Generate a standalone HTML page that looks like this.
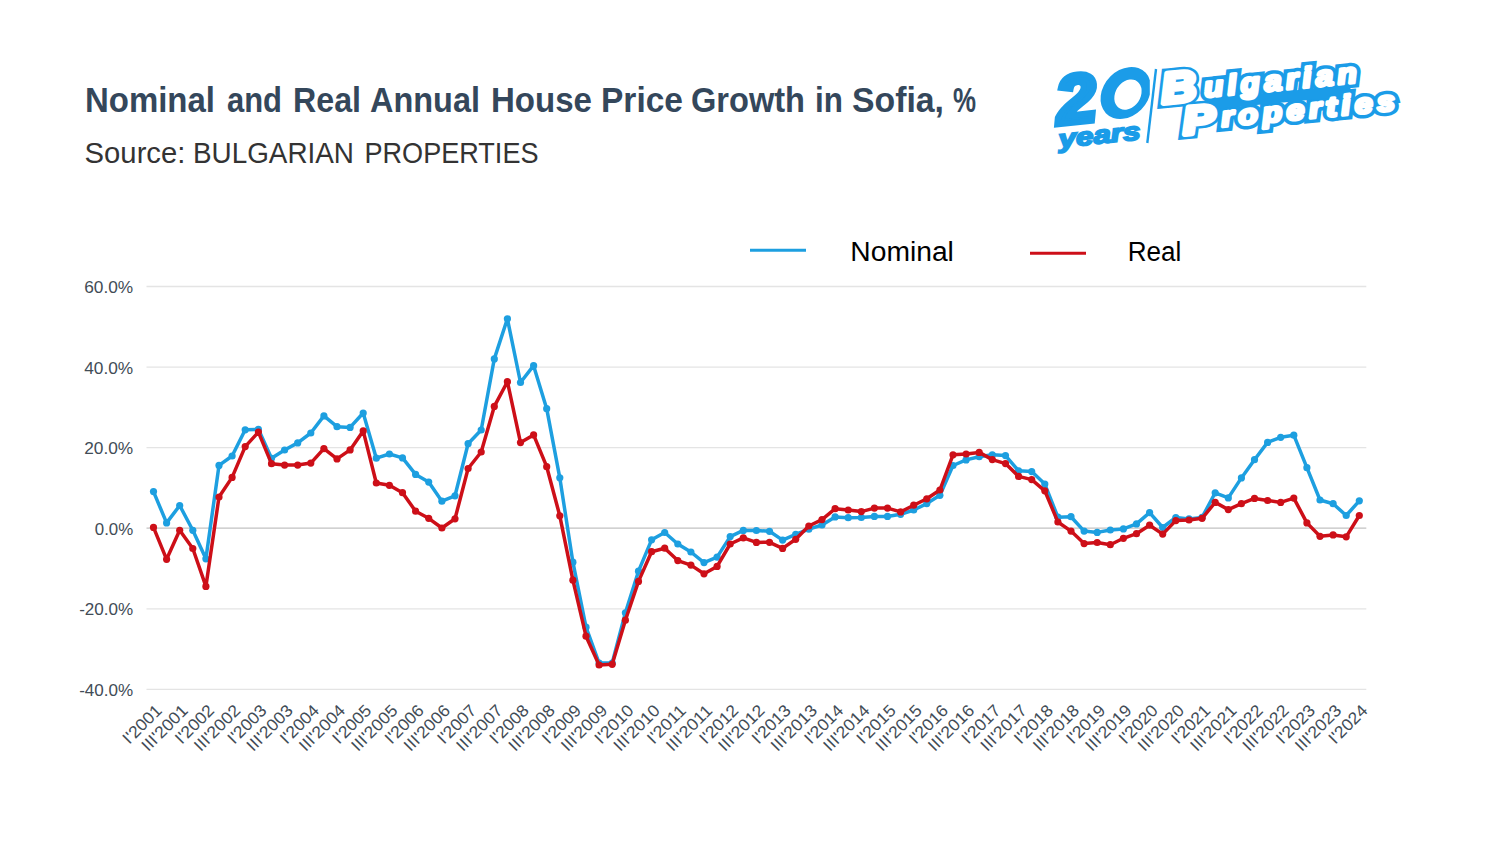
<!DOCTYPE html>
<html><head><meta charset="utf-8"><title>Chart</title>
<style>
html,body{margin:0;padding:0;background:#fff;}
body{width:1500px;height:844px;overflow:hidden;font-family:"Liberation Sans",sans-serif;}
svg{display:block;font-family:"Liberation Sans",sans-serif;}
</style></head><body>
<svg width="1500" height="844" viewBox="0 0 1500 844">
<rect width="1500" height="844" fill="#ffffff"/>
<text x="85.0" y="112.4" font-size="35.2" font-weight="bold" fill="#34475b" textLength="129.98" lengthAdjust="spacingAndGlyphs">Nominal</text>
<text x="227.0" y="112.4" font-size="35.2" font-weight="bold" fill="#34475b" textLength="54.96" lengthAdjust="spacingAndGlyphs">and</text>
<text x="293.0" y="112.4" font-size="35.2" font-weight="bold" fill="#34475b" textLength="67.97" lengthAdjust="spacingAndGlyphs">Real</text>
<text x="370.0" y="112.4" font-size="35.2" font-weight="bold" fill="#34475b" textLength="109.98" lengthAdjust="spacingAndGlyphs">Annual</text>
<text x="491.0" y="112.4" font-size="35.2" font-weight="bold" fill="#34475b" textLength="101.0" lengthAdjust="spacingAndGlyphs">House</text>
<text x="601.0" y="112.4" font-size="35.2" font-weight="bold" fill="#34475b" textLength="81.98" lengthAdjust="spacingAndGlyphs">Price</text>
<text x="691.0" y="112.4" font-size="35.2" font-weight="bold" fill="#34475b" textLength="113.98" lengthAdjust="spacingAndGlyphs">Growth</text>
<text x="815.0" y="112.4" font-size="35.2" font-weight="bold" fill="#34475b" textLength="27.93" lengthAdjust="spacingAndGlyphs">in</text>
<text x="852.0" y="112.4" font-size="35.2" font-weight="bold" fill="#34475b" textLength="92.0" lengthAdjust="spacingAndGlyphs">Sofia,</text>
<text x="953.0" y="112.4" font-size="35.2" font-weight="bold" fill="#34475b" textLength="23.0" lengthAdjust="spacingAndGlyphs">%</text>
<text x="84.6" y="163" font-size="28.6" fill="#333333" textLength="100.79" lengthAdjust="spacingAndGlyphs">Source:</text>
<text x="193.0" y="163" font-size="28.6" fill="#333333" textLength="160.99" lengthAdjust="spacingAndGlyphs">BULGARIAN</text>
<text x="364.5" y="163" font-size="28.6" fill="#333333" textLength="173.99" lengthAdjust="spacingAndGlyphs">PROPERTIES</text>

<g id="logo" font-weight="bold" font-style="italic" fill="#1b9ce8">
<!-- 20 years -->
<g transform="translate(1058.5,124.2) rotate(-6)">
<text x="0" y="0" font-size="68" stroke="#1b9ce8" stroke-width="6" stroke-linejoin="miter" textLength="40" lengthAdjust="spacingAndGlyphs">2</text>
<text x="-1.5" y="23.5" font-size="25" stroke="#1b9ce8" stroke-width="1.9" stroke-linejoin="miter" textLength="82" lengthAdjust="spacingAndGlyphs">years</text>
</g>
<g transform="translate(1125.8,93) rotate(-6) skewX(-13)">
<ellipse cx="0" cy="0" rx="25.2" ry="25.4" fill="#1b9ce8"/>
<ellipse cx="2.4" cy="1.8" rx="13.6" ry="14.8" fill="#ffffff"/>
</g>
<rect x="1149.8" y="60" width="6" height="70" fill="#ffffff"/>
<line x1="1156" y1="69" x2="1147.3" y2="143" stroke="#1b9ce8" stroke-width="2.4"/>
<!-- Bulgarian Properties -->
<g transform="translate(1165,102.8) rotate(-5.5)">
<g fill="#1b9ce8" stroke="#1b9ce8" stroke-width="10" stroke-linejoin="miter" stroke-miterlimit="3">
<text x="-2.5" y="0.5" font-size="43" textLength="35" lengthAdjust="spacingAndGlyphs">B</text>
<text x="40" y="-1.8" font-size="28.5" letter-spacing="4" textLength="158" lengthAdjust="spacingAndGlyphs">ulgarian</text>
<text x="16" y="33.3" font-size="39" textLength="32" lengthAdjust="spacingAndGlyphs">P</text>
<text x="54.5" y="29.3" font-size="28" letter-spacing="4" textLength="179" lengthAdjust="spacingAndGlyphs">roperties</text>
</g>
<polygon points="40,0 186,0 186,11 52,11" fill="#1b9ce8"/>
<g fill="#ffffff" stroke="#ffffff" stroke-width="3.1" stroke-linejoin="round">
<text x="-2.5" y="0.5" font-size="43" textLength="35" lengthAdjust="spacingAndGlyphs" stroke-width="5">B</text>
<text x="40" y="-1.8" font-size="28.5" letter-spacing="4" textLength="158" lengthAdjust="spacingAndGlyphs">ulgarian</text>
<text x="16" y="33.3" font-size="39" textLength="32" lengthAdjust="spacingAndGlyphs" stroke-width="5">P</text>
<text x="54.5" y="29.3" font-size="28" letter-spacing="4" textLength="179" lengthAdjust="spacingAndGlyphs">roperties</text>
</g>
</g>
</g>

<line x1="750" x2="806" y1="250.2" y2="250.2" stroke="#1d9fe0" stroke-width="3"/>
<text x="850.3" y="261.4" font-size="27" fill="#000" textLength="103.6" lengthAdjust="spacingAndGlyphs">Nominal</text>
<line x1="1030" x2="1086" y1="253.2" y2="253.2" stroke="#cd0f18" stroke-width="3"/>
<text x="1127.8" y="261.4" font-size="27" fill="#000" textLength="53.6" lengthAdjust="spacingAndGlyphs">Real</text>
<line x1="146.5" x2="1366.3" y1="286.5" y2="286.5" stroke="#e4e4e4" stroke-width="1.3"/>
<text x="133.2" y="293.0" text-anchor="end" font-size="16.5" fill="#424c56" textLength="49.0" lengthAdjust="spacingAndGlyphs">60.0%</text>
<line x1="146.5" x2="1366.3" y1="367.2" y2="367.2" stroke="#e4e4e4" stroke-width="1.3"/>
<text x="133.2" y="373.7" text-anchor="end" font-size="16.5" fill="#424c56" textLength="49.0" lengthAdjust="spacingAndGlyphs">40.0%</text>
<line x1="146.5" x2="1366.3" y1="447.7" y2="447.7" stroke="#e4e4e4" stroke-width="1.3"/>
<text x="133.2" y="454.2" text-anchor="end" font-size="16.5" fill="#424c56" textLength="49.0" lengthAdjust="spacingAndGlyphs">20.0%</text>
<line x1="146.5" x2="1366.3" y1="528.1" y2="528.1" stroke="#c2c2c2" stroke-width="1.3"/>
<text x="133.2" y="534.6" text-anchor="end" font-size="16.5" fill="#424c56" textLength="38.4" lengthAdjust="spacingAndGlyphs">0.0%</text>
<line x1="146.5" x2="1366.3" y1="608.8" y2="608.8" stroke="#e4e4e4" stroke-width="1.3"/>
<text x="133.2" y="615.3" text-anchor="end" font-size="16.5" fill="#424c56" textLength="54.0" lengthAdjust="spacingAndGlyphs">-20.0%</text>
<line x1="146.5" x2="1366.3" y1="689.4" y2="689.4" stroke="#e4e4e4" stroke-width="1.3"/>
<text x="133.2" y="695.9" text-anchor="end" font-size="16.5" fill="#424c56" textLength="54.0" lengthAdjust="spacingAndGlyphs">-40.0%</text>

<polyline points="153.5,491.6 166.6,522.9 179.7,505.5 192.8,530.3 205.9,558.8 219.0,465.4 232.1,456.0 245.2,429.8 258.4,429.3 271.5,458.3 284.6,450.0 297.7,442.9 310.8,433.0 323.9,415.9 337.0,426.7 350.1,427.4 363.2,413.0 376.3,458.2 389.4,454.0 402.5,457.9 415.6,474.4 428.7,482.1 441.9,501.2 455.0,495.8 468.1,443.7 481.2,430.0 494.3,358.9 507.4,318.8 520.5,382.5 533.6,365.7 546.7,408.7 559.8,477.8 572.9,562.2 586.0,627.2 599.1,663.0 612.2,663.0 625.4,612.8 638.5,571.2 651.6,539.8 664.7,532.5 677.8,544.0 690.9,552.0 704.0,562.6 717.1,557.1 730.2,536.6 743.3,530.4 756.4,530.5 769.5,531.3 782.6,540.1 795.7,534.3 808.8,529.2 822.0,525.0 835.1,516.9 848.2,517.7 861.3,517.5 874.4,516.4 887.5,516.4 900.6,514.3 913.7,510.0 926.8,503.6 939.9,495.3 953.0,465.5 966.1,459.9 979.2,456.7 992.3,454.8 1005.5,455.6 1018.6,470.8 1031.7,471.6 1044.8,484.1 1057.9,517.2 1071.0,516.7 1084.1,531.1 1097.2,532.4 1110.3,530.0 1123.4,528.9 1136.5,523.9 1149.6,512.7 1162.7,527.5 1175.8,517.5 1189.0,518.9 1202.1,517.4 1215.2,492.8 1228.3,497.9 1241.4,477.9 1254.5,459.7 1267.6,442.4 1280.7,437.3 1293.8,435.2 1306.9,467.7 1320.0,500.0 1333.1,503.7 1346.2,515.5 1359.3,500.8" fill="none" stroke="#1d9fe0" stroke-width="3.5" stroke-linejoin="round" stroke-linecap="round"/>
<circle cx="153.5" cy="491.6" r="3.6" fill="#1d9fe0"/><circle cx="166.6" cy="522.9" r="3.6" fill="#1d9fe0"/><circle cx="179.7" cy="505.5" r="3.6" fill="#1d9fe0"/><circle cx="192.8" cy="530.3" r="3.6" fill="#1d9fe0"/><circle cx="205.9" cy="558.8" r="3.6" fill="#1d9fe0"/><circle cx="219.0" cy="465.4" r="3.6" fill="#1d9fe0"/><circle cx="232.1" cy="456.0" r="3.6" fill="#1d9fe0"/><circle cx="245.2" cy="429.8" r="3.6" fill="#1d9fe0"/><circle cx="258.4" cy="429.3" r="3.6" fill="#1d9fe0"/><circle cx="271.5" cy="458.3" r="3.6" fill="#1d9fe0"/><circle cx="284.6" cy="450.0" r="3.6" fill="#1d9fe0"/><circle cx="297.7" cy="442.9" r="3.6" fill="#1d9fe0"/><circle cx="310.8" cy="433.0" r="3.6" fill="#1d9fe0"/><circle cx="323.9" cy="415.9" r="3.6" fill="#1d9fe0"/><circle cx="337.0" cy="426.7" r="3.6" fill="#1d9fe0"/><circle cx="350.1" cy="427.4" r="3.6" fill="#1d9fe0"/><circle cx="363.2" cy="413.0" r="3.6" fill="#1d9fe0"/><circle cx="376.3" cy="458.2" r="3.6" fill="#1d9fe0"/><circle cx="389.4" cy="454.0" r="3.6" fill="#1d9fe0"/><circle cx="402.5" cy="457.9" r="3.6" fill="#1d9fe0"/><circle cx="415.6" cy="474.4" r="3.6" fill="#1d9fe0"/><circle cx="428.7" cy="482.1" r="3.6" fill="#1d9fe0"/><circle cx="441.9" cy="501.2" r="3.6" fill="#1d9fe0"/><circle cx="455.0" cy="495.8" r="3.6" fill="#1d9fe0"/><circle cx="468.1" cy="443.7" r="3.6" fill="#1d9fe0"/><circle cx="481.2" cy="430.0" r="3.6" fill="#1d9fe0"/><circle cx="494.3" cy="358.9" r="3.6" fill="#1d9fe0"/><circle cx="507.4" cy="318.8" r="3.6" fill="#1d9fe0"/><circle cx="520.5" cy="382.5" r="3.6" fill="#1d9fe0"/><circle cx="533.6" cy="365.7" r="3.6" fill="#1d9fe0"/><circle cx="546.7" cy="408.7" r="3.6" fill="#1d9fe0"/><circle cx="559.8" cy="477.8" r="3.6" fill="#1d9fe0"/><circle cx="572.9" cy="562.2" r="3.6" fill="#1d9fe0"/><circle cx="586.0" cy="627.2" r="3.6" fill="#1d9fe0"/><circle cx="599.1" cy="663.0" r="3.6" fill="#1d9fe0"/><circle cx="612.2" cy="663.0" r="3.6" fill="#1d9fe0"/><circle cx="625.4" cy="612.8" r="3.6" fill="#1d9fe0"/><circle cx="638.5" cy="571.2" r="3.6" fill="#1d9fe0"/><circle cx="651.6" cy="539.8" r="3.6" fill="#1d9fe0"/><circle cx="664.7" cy="532.5" r="3.6" fill="#1d9fe0"/><circle cx="677.8" cy="544.0" r="3.6" fill="#1d9fe0"/><circle cx="690.9" cy="552.0" r="3.6" fill="#1d9fe0"/><circle cx="704.0" cy="562.6" r="3.6" fill="#1d9fe0"/><circle cx="717.1" cy="557.1" r="3.6" fill="#1d9fe0"/><circle cx="730.2" cy="536.6" r="3.6" fill="#1d9fe0"/><circle cx="743.3" cy="530.4" r="3.6" fill="#1d9fe0"/><circle cx="756.4" cy="530.5" r="3.6" fill="#1d9fe0"/><circle cx="769.5" cy="531.3" r="3.6" fill="#1d9fe0"/><circle cx="782.6" cy="540.1" r="3.6" fill="#1d9fe0"/><circle cx="795.7" cy="534.3" r="3.6" fill="#1d9fe0"/><circle cx="808.8" cy="529.2" r="3.6" fill="#1d9fe0"/><circle cx="822.0" cy="525.0" r="3.6" fill="#1d9fe0"/><circle cx="835.1" cy="516.9" r="3.6" fill="#1d9fe0"/><circle cx="848.2" cy="517.7" r="3.6" fill="#1d9fe0"/><circle cx="861.3" cy="517.5" r="3.6" fill="#1d9fe0"/><circle cx="874.4" cy="516.4" r="3.6" fill="#1d9fe0"/><circle cx="887.5" cy="516.4" r="3.6" fill="#1d9fe0"/><circle cx="900.6" cy="514.3" r="3.6" fill="#1d9fe0"/><circle cx="913.7" cy="510.0" r="3.6" fill="#1d9fe0"/><circle cx="926.8" cy="503.6" r="3.6" fill="#1d9fe0"/><circle cx="939.9" cy="495.3" r="3.6" fill="#1d9fe0"/><circle cx="953.0" cy="465.5" r="3.6" fill="#1d9fe0"/><circle cx="966.1" cy="459.9" r="3.6" fill="#1d9fe0"/><circle cx="979.2" cy="456.7" r="3.6" fill="#1d9fe0"/><circle cx="992.3" cy="454.8" r="3.6" fill="#1d9fe0"/><circle cx="1005.5" cy="455.6" r="3.6" fill="#1d9fe0"/><circle cx="1018.6" cy="470.8" r="3.6" fill="#1d9fe0"/><circle cx="1031.7" cy="471.6" r="3.6" fill="#1d9fe0"/><circle cx="1044.8" cy="484.1" r="3.6" fill="#1d9fe0"/><circle cx="1057.9" cy="517.2" r="3.6" fill="#1d9fe0"/><circle cx="1071.0" cy="516.7" r="3.6" fill="#1d9fe0"/><circle cx="1084.1" cy="531.1" r="3.6" fill="#1d9fe0"/><circle cx="1097.2" cy="532.4" r="3.6" fill="#1d9fe0"/><circle cx="1110.3" cy="530.0" r="3.6" fill="#1d9fe0"/><circle cx="1123.4" cy="528.9" r="3.6" fill="#1d9fe0"/><circle cx="1136.5" cy="523.9" r="3.6" fill="#1d9fe0"/><circle cx="1149.6" cy="512.7" r="3.6" fill="#1d9fe0"/><circle cx="1162.7" cy="527.5" r="3.6" fill="#1d9fe0"/><circle cx="1175.8" cy="517.5" r="3.6" fill="#1d9fe0"/><circle cx="1189.0" cy="518.9" r="3.6" fill="#1d9fe0"/><circle cx="1202.1" cy="517.4" r="3.6" fill="#1d9fe0"/><circle cx="1215.2" cy="492.8" r="3.6" fill="#1d9fe0"/><circle cx="1228.3" cy="497.9" r="3.6" fill="#1d9fe0"/><circle cx="1241.4" cy="477.9" r="3.6" fill="#1d9fe0"/><circle cx="1254.5" cy="459.7" r="3.6" fill="#1d9fe0"/><circle cx="1267.6" cy="442.4" r="3.6" fill="#1d9fe0"/><circle cx="1280.7" cy="437.3" r="3.6" fill="#1d9fe0"/><circle cx="1293.8" cy="435.2" r="3.6" fill="#1d9fe0"/><circle cx="1306.9" cy="467.7" r="3.6" fill="#1d9fe0"/><circle cx="1320.0" cy="500.0" r="3.6" fill="#1d9fe0"/><circle cx="1333.1" cy="503.7" r="3.6" fill="#1d9fe0"/><circle cx="1346.2" cy="515.5" r="3.6" fill="#1d9fe0"/><circle cx="1359.3" cy="500.8" r="3.6" fill="#1d9fe0"/>

<polyline points="153.5,527.4 166.6,559.3 179.7,530.3 192.8,548.5 205.9,586.4 219.0,497.0 232.1,477.4 245.2,446.6 258.4,432.1 271.5,463.7 284.6,465.1 297.7,465.1 310.8,463.1 323.9,448.6 337.0,458.9 350.1,449.9 363.2,430.9 376.3,483.0 389.4,485.3 402.5,492.7 415.6,511.2 428.7,518.3 441.9,528.0 455.0,518.8 468.1,468.5 481.2,452.0 494.3,406.4 507.4,381.7 520.5,442.6 533.6,434.9 546.7,466.7 559.8,515.8 572.9,580.2 586.0,636.2 599.1,665.0 612.2,664.3 625.4,620.2 638.5,581.4 651.6,551.7 664.7,548.2 677.8,560.6 690.9,565.1 704.0,573.8 717.1,566.4 730.2,544.0 743.3,537.8 756.4,542.4 769.5,542.3 782.6,548.4 795.7,539.3 808.8,526.0 822.0,519.6 835.1,508.7 848.2,510.0 861.3,511.6 874.4,508.1 887.5,508.1 900.6,511.9 913.7,505.2 926.8,498.8 939.9,490.0 953.0,454.8 966.1,454.0 979.2,452.4 992.3,459.6 1005.5,463.6 1018.6,476.4 1031.7,479.6 1044.8,490.8 1057.9,522.0 1071.0,531.1 1084.1,543.6 1097.2,542.5 1110.3,544.7 1123.4,538.3 1136.5,533.7 1149.6,525.2 1162.7,534.1 1175.8,520.6 1189.0,520.0 1202.1,518.3 1215.2,502.4 1228.3,509.6 1241.4,503.7 1254.5,498.4 1267.6,500.5 1280.7,502.4 1293.8,498.1 1306.9,522.9 1320.0,536.3 1333.1,534.9 1346.2,536.8 1359.3,515.5" fill="none" stroke="#cd0f18" stroke-width="3.5" stroke-linejoin="round" stroke-linecap="round"/>
<circle cx="153.5" cy="527.4" r="3.6" fill="#cd0f18"/><circle cx="166.6" cy="559.3" r="3.6" fill="#cd0f18"/><circle cx="179.7" cy="530.3" r="3.6" fill="#cd0f18"/><circle cx="192.8" cy="548.5" r="3.6" fill="#cd0f18"/><circle cx="205.9" cy="586.4" r="3.6" fill="#cd0f18"/><circle cx="219.0" cy="497.0" r="3.6" fill="#cd0f18"/><circle cx="232.1" cy="477.4" r="3.6" fill="#cd0f18"/><circle cx="245.2" cy="446.6" r="3.6" fill="#cd0f18"/><circle cx="258.4" cy="432.1" r="3.6" fill="#cd0f18"/><circle cx="271.5" cy="463.7" r="3.6" fill="#cd0f18"/><circle cx="284.6" cy="465.1" r="3.6" fill="#cd0f18"/><circle cx="297.7" cy="465.1" r="3.6" fill="#cd0f18"/><circle cx="310.8" cy="463.1" r="3.6" fill="#cd0f18"/><circle cx="323.9" cy="448.6" r="3.6" fill="#cd0f18"/><circle cx="337.0" cy="458.9" r="3.6" fill="#cd0f18"/><circle cx="350.1" cy="449.9" r="3.6" fill="#cd0f18"/><circle cx="363.2" cy="430.9" r="3.6" fill="#cd0f18"/><circle cx="376.3" cy="483.0" r="3.6" fill="#cd0f18"/><circle cx="389.4" cy="485.3" r="3.6" fill="#cd0f18"/><circle cx="402.5" cy="492.7" r="3.6" fill="#cd0f18"/><circle cx="415.6" cy="511.2" r="3.6" fill="#cd0f18"/><circle cx="428.7" cy="518.3" r="3.6" fill="#cd0f18"/><circle cx="441.9" cy="528.0" r="3.6" fill="#cd0f18"/><circle cx="455.0" cy="518.8" r="3.6" fill="#cd0f18"/><circle cx="468.1" cy="468.5" r="3.6" fill="#cd0f18"/><circle cx="481.2" cy="452.0" r="3.6" fill="#cd0f18"/><circle cx="494.3" cy="406.4" r="3.6" fill="#cd0f18"/><circle cx="507.4" cy="381.7" r="3.6" fill="#cd0f18"/><circle cx="520.5" cy="442.6" r="3.6" fill="#cd0f18"/><circle cx="533.6" cy="434.9" r="3.6" fill="#cd0f18"/><circle cx="546.7" cy="466.7" r="3.6" fill="#cd0f18"/><circle cx="559.8" cy="515.8" r="3.6" fill="#cd0f18"/><circle cx="572.9" cy="580.2" r="3.6" fill="#cd0f18"/><circle cx="586.0" cy="636.2" r="3.6" fill="#cd0f18"/><circle cx="599.1" cy="665.0" r="3.6" fill="#cd0f18"/><circle cx="612.2" cy="664.3" r="3.6" fill="#cd0f18"/><circle cx="625.4" cy="620.2" r="3.6" fill="#cd0f18"/><circle cx="638.5" cy="581.4" r="3.6" fill="#cd0f18"/><circle cx="651.6" cy="551.7" r="3.6" fill="#cd0f18"/><circle cx="664.7" cy="548.2" r="3.6" fill="#cd0f18"/><circle cx="677.8" cy="560.6" r="3.6" fill="#cd0f18"/><circle cx="690.9" cy="565.1" r="3.6" fill="#cd0f18"/><circle cx="704.0" cy="573.8" r="3.6" fill="#cd0f18"/><circle cx="717.1" cy="566.4" r="3.6" fill="#cd0f18"/><circle cx="730.2" cy="544.0" r="3.6" fill="#cd0f18"/><circle cx="743.3" cy="537.8" r="3.6" fill="#cd0f18"/><circle cx="756.4" cy="542.4" r="3.6" fill="#cd0f18"/><circle cx="769.5" cy="542.3" r="3.6" fill="#cd0f18"/><circle cx="782.6" cy="548.4" r="3.6" fill="#cd0f18"/><circle cx="795.7" cy="539.3" r="3.6" fill="#cd0f18"/><circle cx="808.8" cy="526.0" r="3.6" fill="#cd0f18"/><circle cx="822.0" cy="519.6" r="3.6" fill="#cd0f18"/><circle cx="835.1" cy="508.7" r="3.6" fill="#cd0f18"/><circle cx="848.2" cy="510.0" r="3.6" fill="#cd0f18"/><circle cx="861.3" cy="511.6" r="3.6" fill="#cd0f18"/><circle cx="874.4" cy="508.1" r="3.6" fill="#cd0f18"/><circle cx="887.5" cy="508.1" r="3.6" fill="#cd0f18"/><circle cx="900.6" cy="511.9" r="3.6" fill="#cd0f18"/><circle cx="913.7" cy="505.2" r="3.6" fill="#cd0f18"/><circle cx="926.8" cy="498.8" r="3.6" fill="#cd0f18"/><circle cx="939.9" cy="490.0" r="3.6" fill="#cd0f18"/><circle cx="953.0" cy="454.8" r="3.6" fill="#cd0f18"/><circle cx="966.1" cy="454.0" r="3.6" fill="#cd0f18"/><circle cx="979.2" cy="452.4" r="3.6" fill="#cd0f18"/><circle cx="992.3" cy="459.6" r="3.6" fill="#cd0f18"/><circle cx="1005.5" cy="463.6" r="3.6" fill="#cd0f18"/><circle cx="1018.6" cy="476.4" r="3.6" fill="#cd0f18"/><circle cx="1031.7" cy="479.6" r="3.6" fill="#cd0f18"/><circle cx="1044.8" cy="490.8" r="3.6" fill="#cd0f18"/><circle cx="1057.9" cy="522.0" r="3.6" fill="#cd0f18"/><circle cx="1071.0" cy="531.1" r="3.6" fill="#cd0f18"/><circle cx="1084.1" cy="543.6" r="3.6" fill="#cd0f18"/><circle cx="1097.2" cy="542.5" r="3.6" fill="#cd0f18"/><circle cx="1110.3" cy="544.7" r="3.6" fill="#cd0f18"/><circle cx="1123.4" cy="538.3" r="3.6" fill="#cd0f18"/><circle cx="1136.5" cy="533.7" r="3.6" fill="#cd0f18"/><circle cx="1149.6" cy="525.2" r="3.6" fill="#cd0f18"/><circle cx="1162.7" cy="534.1" r="3.6" fill="#cd0f18"/><circle cx="1175.8" cy="520.6" r="3.6" fill="#cd0f18"/><circle cx="1189.0" cy="520.0" r="3.6" fill="#cd0f18"/><circle cx="1202.1" cy="518.3" r="3.6" fill="#cd0f18"/><circle cx="1215.2" cy="502.4" r="3.6" fill="#cd0f18"/><circle cx="1228.3" cy="509.6" r="3.6" fill="#cd0f18"/><circle cx="1241.4" cy="503.7" r="3.6" fill="#cd0f18"/><circle cx="1254.5" cy="498.4" r="3.6" fill="#cd0f18"/><circle cx="1267.6" cy="500.5" r="3.6" fill="#cd0f18"/><circle cx="1280.7" cy="502.4" r="3.6" fill="#cd0f18"/><circle cx="1293.8" cy="498.1" r="3.6" fill="#cd0f18"/><circle cx="1306.9" cy="522.9" r="3.6" fill="#cd0f18"/><circle cx="1320.0" cy="536.3" r="3.6" fill="#cd0f18"/><circle cx="1333.1" cy="534.9" r="3.6" fill="#cd0f18"/><circle cx="1346.2" cy="536.8" r="3.6" fill="#cd0f18"/><circle cx="1359.3" cy="515.5" r="3.6" fill="#cd0f18"/>

<text transform="translate(162.8,711.6) rotate(-45)" text-anchor="end" font-size="16.8" fill="#424c56" textLength="47.3" lengthAdjust="spacingAndGlyphs">I'2001</text>
<text transform="translate(189.0,711.6) rotate(-45)" text-anchor="end" font-size="16.8" fill="#424c56" textLength="57.5" lengthAdjust="spacingAndGlyphs">III'2001</text>
<text transform="translate(215.2,711.6) rotate(-45)" text-anchor="end" font-size="16.8" fill="#424c56" textLength="47.3" lengthAdjust="spacingAndGlyphs">I'2002</text>
<text transform="translate(241.4,711.6) rotate(-45)" text-anchor="end" font-size="16.8" fill="#424c56" textLength="57.5" lengthAdjust="spacingAndGlyphs">III'2002</text>
<text transform="translate(267.7,711.6) rotate(-45)" text-anchor="end" font-size="16.8" fill="#424c56" textLength="47.3" lengthAdjust="spacingAndGlyphs">I'2003</text>
<text transform="translate(293.9,711.6) rotate(-45)" text-anchor="end" font-size="16.8" fill="#424c56" textLength="57.5" lengthAdjust="spacingAndGlyphs">III'2003</text>
<text transform="translate(320.1,711.6) rotate(-45)" text-anchor="end" font-size="16.8" fill="#424c56" textLength="47.3" lengthAdjust="spacingAndGlyphs">I'2004</text>
<text transform="translate(346.3,711.6) rotate(-45)" text-anchor="end" font-size="16.8" fill="#424c56" textLength="57.5" lengthAdjust="spacingAndGlyphs">III'2004</text>
<text transform="translate(372.5,711.6) rotate(-45)" text-anchor="end" font-size="16.8" fill="#424c56" textLength="47.3" lengthAdjust="spacingAndGlyphs">I'2005</text>
<text transform="translate(398.7,711.6) rotate(-45)" text-anchor="end" font-size="16.8" fill="#424c56" textLength="57.5" lengthAdjust="spacingAndGlyphs">III'2005</text>
<text transform="translate(424.9,711.6) rotate(-45)" text-anchor="end" font-size="16.8" fill="#424c56" textLength="47.3" lengthAdjust="spacingAndGlyphs">I'2006</text>
<text transform="translate(451.2,711.6) rotate(-45)" text-anchor="end" font-size="16.8" fill="#424c56" textLength="57.5" lengthAdjust="spacingAndGlyphs">III'2006</text>
<text transform="translate(477.4,711.6) rotate(-45)" text-anchor="end" font-size="16.8" fill="#424c56" textLength="47.3" lengthAdjust="spacingAndGlyphs">I'2007</text>
<text transform="translate(503.6,711.6) rotate(-45)" text-anchor="end" font-size="16.8" fill="#424c56" textLength="57.5" lengthAdjust="spacingAndGlyphs">III'2007</text>
<text transform="translate(529.8,711.6) rotate(-45)" text-anchor="end" font-size="16.8" fill="#424c56" textLength="47.3" lengthAdjust="spacingAndGlyphs">I'2008</text>
<text transform="translate(556.0,711.6) rotate(-45)" text-anchor="end" font-size="16.8" fill="#424c56" textLength="57.5" lengthAdjust="spacingAndGlyphs">III'2008</text>
<text transform="translate(582.2,711.6) rotate(-45)" text-anchor="end" font-size="16.8" fill="#424c56" textLength="47.3" lengthAdjust="spacingAndGlyphs">I'2009</text>
<text transform="translate(608.4,711.6) rotate(-45)" text-anchor="end" font-size="16.8" fill="#424c56" textLength="57.5" lengthAdjust="spacingAndGlyphs">III'2009</text>
<text transform="translate(634.7,711.6) rotate(-45)" text-anchor="end" font-size="16.8" fill="#424c56" textLength="47.3" lengthAdjust="spacingAndGlyphs">I'2010</text>
<text transform="translate(660.9,711.6) rotate(-45)" text-anchor="end" font-size="16.8" fill="#424c56" textLength="57.5" lengthAdjust="spacingAndGlyphs">III'2010</text>
<text transform="translate(687.1,711.6) rotate(-45)" text-anchor="end" font-size="16.8" fill="#424c56" textLength="47.3" lengthAdjust="spacingAndGlyphs">I'2011</text>
<text transform="translate(713.3,711.6) rotate(-45)" text-anchor="end" font-size="16.8" fill="#424c56" textLength="57.5" lengthAdjust="spacingAndGlyphs">III'2011</text>
<text transform="translate(739.5,711.6) rotate(-45)" text-anchor="end" font-size="16.8" fill="#424c56" textLength="47.3" lengthAdjust="spacingAndGlyphs">I'2012</text>
<text transform="translate(765.7,711.6) rotate(-45)" text-anchor="end" font-size="16.8" fill="#424c56" textLength="57.5" lengthAdjust="spacingAndGlyphs">III'2012</text>
<text transform="translate(791.9,711.6) rotate(-45)" text-anchor="end" font-size="16.8" fill="#424c56" textLength="47.3" lengthAdjust="spacingAndGlyphs">I'2013</text>
<text transform="translate(818.1,711.6) rotate(-45)" text-anchor="end" font-size="16.8" fill="#424c56" textLength="57.5" lengthAdjust="spacingAndGlyphs">III'2013</text>
<text transform="translate(844.4,711.6) rotate(-45)" text-anchor="end" font-size="16.8" fill="#424c56" textLength="47.3" lengthAdjust="spacingAndGlyphs">I'2014</text>
<text transform="translate(870.6,711.6) rotate(-45)" text-anchor="end" font-size="16.8" fill="#424c56" textLength="57.5" lengthAdjust="spacingAndGlyphs">III'2014</text>
<text transform="translate(896.8,711.6) rotate(-45)" text-anchor="end" font-size="16.8" fill="#424c56" textLength="47.3" lengthAdjust="spacingAndGlyphs">I'2015</text>
<text transform="translate(923.0,711.6) rotate(-45)" text-anchor="end" font-size="16.8" fill="#424c56" textLength="57.5" lengthAdjust="spacingAndGlyphs">III'2015</text>
<text transform="translate(949.2,711.6) rotate(-45)" text-anchor="end" font-size="16.8" fill="#424c56" textLength="47.3" lengthAdjust="spacingAndGlyphs">I'2016</text>
<text transform="translate(975.4,711.6) rotate(-45)" text-anchor="end" font-size="16.8" fill="#424c56" textLength="57.5" lengthAdjust="spacingAndGlyphs">III'2016</text>
<text transform="translate(1001.6,711.6) rotate(-45)" text-anchor="end" font-size="16.8" fill="#424c56" textLength="47.3" lengthAdjust="spacingAndGlyphs">I'2017</text>
<text transform="translate(1027.9,711.6) rotate(-45)" text-anchor="end" font-size="16.8" fill="#424c56" textLength="57.5" lengthAdjust="spacingAndGlyphs">III'2017</text>
<text transform="translate(1054.1,711.6) rotate(-45)" text-anchor="end" font-size="16.8" fill="#424c56" textLength="47.3" lengthAdjust="spacingAndGlyphs">I'2018</text>
<text transform="translate(1080.3,711.6) rotate(-45)" text-anchor="end" font-size="16.8" fill="#424c56" textLength="57.5" lengthAdjust="spacingAndGlyphs">III'2018</text>
<text transform="translate(1106.5,711.6) rotate(-45)" text-anchor="end" font-size="16.8" fill="#424c56" textLength="47.3" lengthAdjust="spacingAndGlyphs">I'2019</text>
<text transform="translate(1132.7,711.6) rotate(-45)" text-anchor="end" font-size="16.8" fill="#424c56" textLength="57.5" lengthAdjust="spacingAndGlyphs">III'2019</text>
<text transform="translate(1158.9,711.6) rotate(-45)" text-anchor="end" font-size="16.8" fill="#424c56" textLength="47.3" lengthAdjust="spacingAndGlyphs">I'2020</text>
<text transform="translate(1185.1,711.6) rotate(-45)" text-anchor="end" font-size="16.8" fill="#424c56" textLength="57.5" lengthAdjust="spacingAndGlyphs">III'2020</text>
<text transform="translate(1211.4,711.6) rotate(-45)" text-anchor="end" font-size="16.8" fill="#424c56" textLength="47.3" lengthAdjust="spacingAndGlyphs">I'2021</text>
<text transform="translate(1237.6,711.6) rotate(-45)" text-anchor="end" font-size="16.8" fill="#424c56" textLength="57.5" lengthAdjust="spacingAndGlyphs">III'2021</text>
<text transform="translate(1263.8,711.6) rotate(-45)" text-anchor="end" font-size="16.8" fill="#424c56" textLength="47.3" lengthAdjust="spacingAndGlyphs">I'2022</text>
<text transform="translate(1290.0,711.6) rotate(-45)" text-anchor="end" font-size="16.8" fill="#424c56" textLength="57.5" lengthAdjust="spacingAndGlyphs">III'2022</text>
<text transform="translate(1316.2,711.6) rotate(-45)" text-anchor="end" font-size="16.8" fill="#424c56" textLength="47.3" lengthAdjust="spacingAndGlyphs">I'2023</text>
<text transform="translate(1342.4,711.6) rotate(-45)" text-anchor="end" font-size="16.8" fill="#424c56" textLength="57.5" lengthAdjust="spacingAndGlyphs">III'2023</text>
<text transform="translate(1368.6,711.6) rotate(-45)" text-anchor="end" font-size="16.8" fill="#424c56" textLength="47.3" lengthAdjust="spacingAndGlyphs">I'2024</text>

</svg>
</body></html>
